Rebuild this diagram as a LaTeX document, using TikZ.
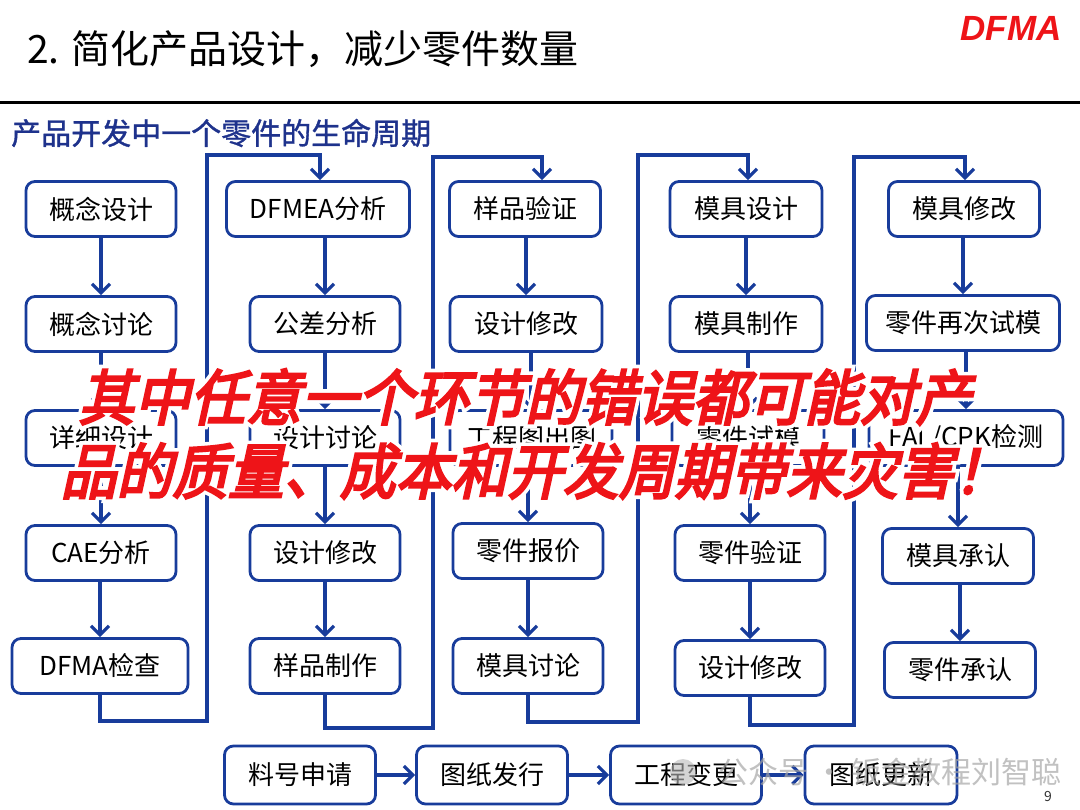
\documentclass[tikz,border=0pt]{standalone}
\usepackage{fontspec}
\setmainfont{Noto Sans CJK SC}
\newfontfamily\logofont{Liberation Sans}
\newfontfamily\subfont{Noto Sans CJK SC}[FakeBold=1.2]
\newfontfamily\warnfont{Noto Sans CJK SC}[FakeSlant=0.22, FakeStretch=0.93, FakeBold=4]
\newfontfamily\halofont{Noto Sans CJK SC}[FakeSlant=0.22, FakeStretch=0.93, FakeBold=16]
\usetikzlibrary{arrows.meta}

\definecolor{flowblue}{RGB}{24,60,155}
\definecolor{titleblue}{RGB}{30,50,140}
\definecolor{warnred}{RGB}{238,20,24}

\newcommand{\warnlinea}{其中任意一个环节的错误都可能对产}
\newcommand{\warnlineb}{品的质量、成本和开发周期带来灾害！}

\begin{document}
\begin{tikzpicture}[x=1pt, y=-1pt,
    box/.style={draw=flowblue, line width=2.8pt, rounded corners=9pt, minimum height=55pt,
        inner sep=0pt, text=black, font=\fontsize{26}{28}\selectfont},
    flow/.style={draw=flowblue, line width=3.2pt, -{Straight Barb[length=9pt, width=18pt]}},
    warn/.style={inner sep=0pt, font=\warnfont\fontsize{60}{64}\selectfont},
    halo/.style={inner sep=0pt, text=white, font=\halofont\fontsize{60}{64}\selectfont}]

    \useasboundingbox (0,0) rectangle (1080,810);

    % Titolo
    \node[anchor=west, inner sep=0pt, font=\fontsize{39}{42}\selectfont] (title) at (27,49) {2. 简化产品设计，减少零件数量};
    \node[anchor=east, inner sep=0pt, text=warnred, font=\logofont\bfseries\itshape\fontsize{35}{36}\selectfont] (logo) at (1062,28) {DFMA};
    \draw[line width=3pt] (0,103) -- (1080,103);
    \node[anchor=west, inner sep=0pt, text=titleblue, font=\subfont\fontsize{30}{32}\selectfont] (subtitle) at (11,133) {产品开发中一个零件的生命周期};

    % Colonna 1
    \node[box, minimum width=150pt] (c1a) at (101,209) {概念设计};
    \node[box, minimum width=150pt] (c1b) at (101,324) {概念讨论};
    \node[box, minimum width=150pt] (c1c) at (101,438) {详细设计};
    \node[box, minimum width=150pt] (c1d) at (101,553) {CAE分析};
    \node[box, minimum width=176pt] (c1e) at (100,666) {DFMA检查};

    % Colonna 2
    \node[box, minimum width=183pt] (c2a) at (318,209) {DFMEA分析};
    \node[box, minimum width=150pt] (c2b) at (325,324) {公差分析};
    \node[box, minimum width=150pt] (c2c) at (325,438) {设计讨论};
    \node[box, minimum width=150pt] (c2d) at (325,553) {设计修改};
    \node[box, minimum width=150pt] (c2e) at (325,666) {样品制作};

    % Colonna 3
    \node[box, minimum width=151pt] (c3a) at (525,209) {样品验证};
    \node[box, minimum width=152pt] (c3b) at (526,324) {设计修改};
    \node[box, minimum width=162pt] (c3c) at (531,438) {工程图出图};
    \node[box, minimum width=150pt] (c3d) at (528,551) {零件报价};
    \node[box, minimum width=150pt] (c3e) at (528,666) {模具讨论};

    % Colonna 4
    \node[box, minimum width=152pt] (c4a) at (746,209) {模具设计};
    \node[box, minimum width=152pt] (c4b) at (746,324) {模具制作};
    \node[box, minimum width=152pt] (c4c) at (748,438) {零件试模};
    \node[box, minimum width=150pt] (c4d) at (750,553) {零件验证};
    \node[box, minimum width=150pt] (c4e) at (750,668) {设计修改};

    % Colonna 5
    \node[box, minimum width=151pt] (c5a) at (964,209) {模具修改};
    \node[box, minimum width=193pt] (c5b) at (963,323) {零件再次试模};
    \node[box, minimum width=194pt] (c5c) at (966,438) {FAI /CPK检测};
    \node[box, minimum width=151pt] (c5d) at (958,556) {模具承认};
    \node[box, minimum width=151pt] (c5e) at (960,670) {零件承认};

    % Riga in basso
    \node[box, minimum width=151pt, minimum height=58pt] (b1) at (300,775) {料号申请};
    \node[box, minimum width=151pt, minimum height=58pt] (b2) at (492,775) {图纸发行};
    \node[box, minimum width=151pt, minimum height=58pt] (b3) at (686,775) {工程变更};
    \node[box, minimum width=152pt, minimum height=58pt] (b4) at (881,775) {图纸更新};

    % Frecce nelle colonne
    \foreach \a/\b in {c1a/c1b, c1b/c1c, c1c/c1d, c1d/c1e,
                       c2a/c2b, c2b/c2c, c2c/c2d, c2d/c2e,
                       c3a/c3b, c3b/c3c, c3c/c3d, c3d/c3e,
                       c4a/c4b, c4b/c4c, c4c/c4d, c4d/c4e,
                       c5a/c5b, c5b/c5c, c5c/c5d, c5d/c5e}
        \draw[flow] (\b.north |- \a.south) -- (\b.north);

    % Collegamenti tra colonne
    \coordinate (j1) at (207,721);
    \coordinate (t1) at (320,155);
    \coordinate (j2) at (433,728);
    \coordinate (t2) at (542,157);
    \coordinate (j3) at (638,722);
    \coordinate (t3) at (748,155);
    \coordinate (j4) at (854,725);
    \coordinate (t4) at (965,157);
    \draw[flow] (c1e.south) |- (j1) |- (t1) -- (t1 |- c2a.north);
    \draw[flow] (c2e.south) |- (j2) |- (t2) -- (t2 |- c3a.north);
    \draw[flow] (c3e.south) |- (j3) |- (t3) -- (t3 |- c4a.north);
    \draw[flow] (c4e.south) |- (j4) |- (t4) -- (t4 |- c5a.north);

    % Frecce in basso
    \draw[flow] (b1) -- (b2);
    \draw[flow] (b2) -- (b3);
    \draw[flow] (b3) -- (b4);

    % Avviso in rosso, con alone bianco
    \node[halo] (halo1) at (525,397) {\warnlinea};
    \node[halo] (halo2) at (535,471) {\warnlineb};
    \node[warn, text=warnred] (warn1) at (525,397) {\warnlinea};
    \node[warn, text=warnred] (warn2) at (535,471) {\warnlineb};

    % Filigrana e numero di pagina
    \fill[gray!55, opacity=0.6] (683,772) circle (13pt);
    \node[anchor=west, inner sep=0pt, text=gray!70, opacity=0.7, font=\fontsize{30}{32}\selectfont] (mark) at (718,772) {公众号 · 钣金教程刘智聪};
    \node[inner sep=0pt, text=black!80, font=\fontsize{14}{16}\selectfont] (page) at (1048,797) {9};

\end{tikzpicture}
\end{document}
